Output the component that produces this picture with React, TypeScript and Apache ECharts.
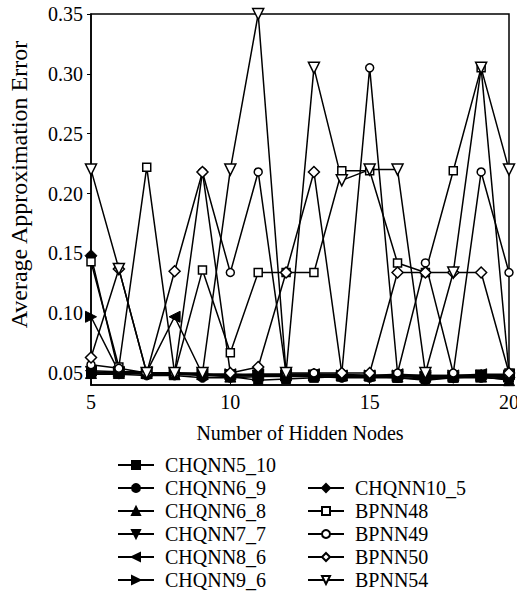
import React, { useEffect, useRef } from "react";
import * as echarts from "echarts";

const hiddenNodes = [5, 6, 7, 8, 9, 10, 11, 12, 13, 14, 15, 16, 17, 18, 19, 20];
const yTicks = [0.05, 0.1, 0.15, 0.2, 0.25, 0.3, 0.35];
const xTicks = [5, 10, 15, 20];

const chqnn5_10 = [0.05, 0.05, 0.049, 0.049, 0.048, 0.047, 0.044, 0.045, 0.046, 0.047, 0.047, 0.046, 0.045, 0.046, 0.047, 0.046];
const chqnn6_9 = [0.049, 0.049, 0.048, 0.048, 0.046, 0.046, 0.047, 0.047, 0.047, 0.046, 0.046, 0.046, 0.044, 0.046, 0.046, 0.045];
const chqnn6_8 = [0.05, 0.05, 0.05, 0.049, 0.049, 0.047, 0.048, 0.048, 0.048, 0.048, 0.048, 0.047, 0.047, 0.047, 0.047, 0.044];
const chqnn7_7 = [0.051, 0.05, 0.05, 0.049, 0.049, 0.048, 0.048, 0.048, 0.048, 0.047, 0.047, 0.047, 0.046, 0.046, 0.048, 0.048];
const chqnn8_6 = [0.052, 0.051, 0.051, 0.097, 0.049, 0.049, 0.049, 0.049, 0.049, 0.048, 0.048, 0.049, 0.048, 0.048, 0.049, 0.049];
const chqnn9_6 = [0.097, 0.051, 0.05, 0.05, 0.049, 0.049, 0.048, 0.048, 0.048, 0.048, 0.048, 0.048, 0.047, 0.048, 0.048, 0.047];
const chqnn10_5 = [0.148, 0.05, 0.05, 0.05, 0.049, 0.048, 0.049, 0.049, 0.049, 0.049, 0.048, 0.048, 0.048, 0.048, 0.048, 0.046];
const bpnn48 = [0.143, 0.055, 0.222, 0.05, 0.136, 0.067, 0.134, 0.134, 0.134, 0.219, 0.219, 0.142, 0.134, 0.219, 0.305, 0.05];
const bpnn49 = [0.057, 0.054, 0.05, 0.05, 0.218, 0.134, 0.218, 0.05, 0.05, 0.05, 0.305, 0.05, 0.142, 0.05, 0.218, 0.134];
const bpnn50 = [0.063, 0.137, 0.05, 0.135, 0.218, 0.05, 0.055, 0.134, 0.218, 0.05, 0.05, 0.134, 0.134, 0.134, 0.134, 0.05];
const bpnn54 = [0.22, 0.137, 0.05, 0.05, 0.05, 0.22, 0.35, 0.05, 0.305, 0.211, 0.22, 0.22, 0.05, 0.134, 0.305, 0.22];

const FONT = "'Liberation Serif', 'DejaVu Serif', serif";

type Def = { name: string; values: number[]; symbol: string; rotate: number; filled: boolean; size: number };

const defs: Def[] = [
  { name: "CHQNN5_10", values: chqnn5_10, symbol: "rect", rotate: 0, filled: true, size: 9 },
  { name: "CHQNN6_9", values: chqnn6_9, symbol: "circle", rotate: 0, filled: true, size: 9 },
  { name: "CHQNN6_8", values: chqnn6_8, symbol: "triangle", rotate: 0, filled: true, size: 11 },
  { name: "CHQNN7_7", values: chqnn7_7, symbol: "triangle", rotate: 180, filled: true, size: 11 },
  { name: "CHQNN8_6", values: chqnn8_6, symbol: "triangle", rotate: 90, filled: true, size: 11 },
  { name: "CHQNN9_6", values: chqnn9_6, symbol: "triangle", rotate: -90, filled: true, size: 11 },
  { name: "CHQNN10_5", values: chqnn10_5, symbol: "diamond", rotate: 0, filled: true, size: 12 },
  { name: "BPNN48", values: bpnn48, symbol: "rect", rotate: 0, filled: false, size: 8 },
  { name: "BPNN49", values: bpnn49, symbol: "circle", rotate: 0, filled: false, size: 8 },
  { name: "BPNN50", values: bpnn50, symbol: "diamond", rotate: 0, filled: false, size: 11 },
  { name: "BPNN54", values: bpnn54, symbol: "triangle", rotate: 180, filled: false, size: 11 },
];

export default function App() {
  const ref = useRef<HTMLDivElement>(null);
  useEffect(() => {
    if (!ref.current) return;
    const chart = echarts.init(ref.current, undefined, { renderer: "svg" });
    const series = defs.map((d) => ({
      name: d.name,
      type: "line",
      data: hiddenNodes.map((x, i) => [x, d.values[i]]),
      symbol: d.symbol,
      symbolSize: d.size,
      symbolRotate: d.rotate,
      showAllSymbol: true,
      lineStyle: { color: "#000", width: 1.5 },
      itemStyle: d.filled
        ? { color: "#000", borderColor: "#000", borderWidth: 1 }
        : { color: "#fff", borderColor: "#000", borderWidth: 1.5 },
      emphasis: { disabled: true },
    }));
    const legendCommon = {
      orient: "vertical",
      itemWidth: 36,
      itemHeight: 10,
      itemGap: 3,
      textStyle: {
        fontFamily: FONT,
        fontSize: 20,
        color: "#000",
        padding: [0, 0, 0, 6],
      },
      padding: 0,
    };
    chart.setOption({
      animation: false,
      backgroundColor: "#fff",
      grid: {
        left: 91,
        right: 8,
        top: 14,
        bottom: 207,
        show: true,
        borderColor: "#000",
        borderWidth: 1.5,
        containLabel: false,
        outerBoundsMode: "none",
      },
      xAxis: {
        type: "value",
        min: 5,
        max: 20,
        interval: 5,
        name: "Number of Hidden Nodes",
        nameLocation: "middle",
        nameGap: 38,
        nameTextStyle: { fontFamily: FONT, fontSize: 20, color: "#000" },
        axisLine: { lineStyle: { color: "#000", width: 1.5 } },
        axisTick: { inside: true, length: 4, lineStyle: { color: "#000" }, customValues: xTicks },
        axisLabel: { fontFamily: FONT, fontSize: 20, color: "#000", margin: 7, customValues: xTicks },
        splitLine: { show: false },
      },
      yAxis: {
        type: "value",
        min: 0.04,
        max: 0.35,
        name: "Average Approximation Error",
        nameLocation: "middle",
        nameRotate: 90,
        nameGap: 60,
        nameTextStyle: {
          fontFamily: FONT,
          fontSize: 24,
          color: "#000",
          padding: [0, 0, 0, 30],
        },
        axisLine: { lineStyle: { color: "#000", width: 1.5 } },
        axisTick: { inside: false, length: 4, lineStyle: { color: "#000" }, customValues: yTicks },
        axisLabel: {
          fontFamily: FONT,
          fontSize: 20,
          color: "#000",
          margin: 8,
          customValues: yTicks,
          formatter: (v: number) => v.toFixed(2),
        },
        splitLine: { show: false },
      },
      legend: [
        { ...legendCommon, left: 117, top: 455, data: defs.slice(0, 6).map((d) => d.name) },
        { ...legendCommon, left: 307, top: 478, data: defs.slice(6).map((d) => d.name) },
      ],
      series,
    });
    return () => chart.dispose();
  }, []);
  return (
    <div
      ref={ref}
      style={{ position: "fixed", left: 0, top: 0, width: 517, height: 592 }}
    />
  );
}
